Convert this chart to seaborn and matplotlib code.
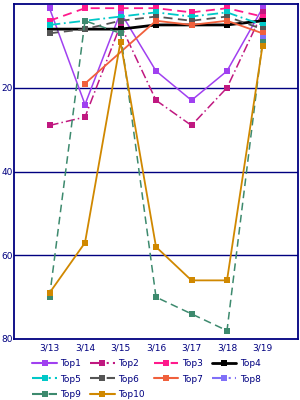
import numpy as np
import pandas as pd
import matplotlib
matplotlib.use("Agg")
import matplotlib.pyplot as plt
import seaborn as sns

dates = ["3/13", "3/14", "3/15", "3/16", "3/17", "3/18", "3/19"]
series_names = ["Top1", "Top2", "Top3", "Top4", "Top5", "Top6", "Top7", "Top8", "Top9", "Top10"]
nan = np.nan
top1 = [1, 24, 2, 16, 23, 16, 1]
top2 = [29, 27, 5, 23, 29, 20, 2]
top3 = [4, 1, 1, 1, 2, 1, 3]
top4 = [6, 6, 6, 5, 5, 5, 4]
top5 = [5, 4, 3, 2, 3, 2, 5]
top6 = [7, 6, 4, 3, 4, 3, 6]
top7 = [nan, 19, nan, 4, 5, 4, 7]
top8 = [nan, nan, nan, nan, nan, nan, 8]
top9 = [70, 4, 7, 70, 74, 78, 9]
top10 = [69, 57, 9, 58, 66, 66, 10]
all_values = [top1, top2, top3, top4, top5, top6, top7, top8, top9, top10]
y_ticks = [20, 40, 60, 80]

colors = ["#a040f0", "#c01880", "#ff1a8c", "#000000", "#00c8c8",
          "#555555", "#f0603c", "#8070f8", "#3d8a6e", "#d08800"]
styles = ["-", (0, (6, 2, 1, 2)), (0, (5, 3)), "-", (0, (6, 2, 1, 2)),
          (0, (5, 3)), "-", (0, (6, 2, 1, 2)), (0, (5, 3)), "-"]
widths = [1.1, 1.1, 1.3, 2.0, 1.3, 1.3, 1.3, 1.1, 1.1, 1.3]

rows = []
for name, vals in zip(series_names, all_values):
    for i, v in enumerate(vals):
        rows.append({"series": name, "x": i, "date": dates[i], "value": v})
df = pd.DataFrame(rows).dropna()

sns.set_style("white")
plt.rcParams["font.family"] = ["DejaVu Sans"]
navy = "#000080"

fig = plt.figure(figsize=(3, 4), dpi=100)
ax = fig.add_axes([14 / 300, 1 - 339 / 400, 284 / 300, 335 / 400])

for name, c, ls, lw in zip(series_names, colors, styles, widths):
    sub = df[df["series"] == name]
    sns.lineplot(data=sub, x="x", y="value", ax=ax, color=c, linestyle=ls,
                 linewidth=lw, marker="s", markersize=4, markeredgewidth=0,
                 label=name, legend=False, sort=False, errorbar=None)

ax.set_xlim(-1, 7)
ax.set_ylim(80, 0)
ax.set_xticks(range(len(dates)))
ax.set_xticklabels(dates)
ax.set_yticks(y_ticks)
ax.set_yticklabels([str(t) for t in y_ticks])
ax.tick_params(axis="both", length=0, labelsize=6.5, colors=navy, pad=3)
ax.tick_params(axis="y", pad=1)
for t in [20, 40, 60]:
    ax.axhline(t, color=navy, linewidth=1.0, zorder=0)
for s in ax.spines.values():
    s.set_color(navy)
    s.set_linewidth(1.3)
ax.set_xlabel("")
ax.set_ylabel("")

handles = [plt.Line2D([], [], color=c, linestyle=ls, linewidth=max(lw, 1.5),
                      marker="s", markersize=4, markeredgewidth=0)
           for c, ls, lw in zip(colors, styles, widths)]
# row-major layout for a column-filling legend (4 columns, 3 rows)
order = [0, 4, 8, 1, 5, 9, 2, 6, 3, 7]
leg = fig.legend([handles[i] for i in order], [series_names[i] for i in order],
                 loc="lower left", ncol=4,
                 bbox_to_anchor=(0.09, -0.012), frameon=False, fontsize=6.5,
                 handlelength=2.7, handletextpad=0.4, columnspacing=1.0,
                 labelspacing=0.75, borderaxespad=0.2)
for t in leg.get_texts():
    t.set_color(navy)

fig.savefig("out.png", dpi=100)
